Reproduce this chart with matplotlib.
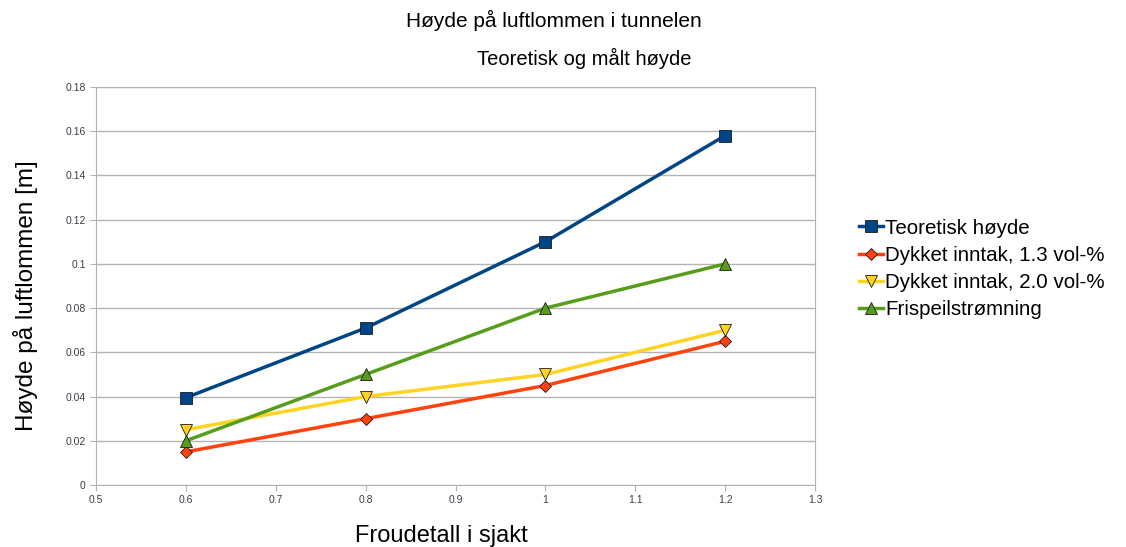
import matplotlib.pyplot as plt

plt.rcParams['font.family'] = ['Liberation Sans', 'DejaVu Sans']

# data
froude = [0.6, 0.8, 1.0, 1.2]
teoretisk = [0.0395, 0.071, 0.110, 0.158]
dykket_13 = [0.015, 0.030, 0.045, 0.065]
dykket_20 = [0.025, 0.040, 0.050, 0.070]
frispeil = [0.020, 0.050, 0.080, 0.100]

xticks = [0.5, 0.6, 0.7, 0.8, 0.9, 1, 1.1, 1.2, 1.3]
yticks = [0, 0.02, 0.04, 0.06, 0.08, 0.1, 0.12, 0.14, 0.16, 0.18]

fig = plt.figure(figsize=(11.26, 5.47), dpi=100)
ax = fig.add_axes([0.0853, 0.1133, 0.6385, 0.7277])

ax.plot(froude, teoretisk, color='#004586', lw=2.5, marker='s', ms=8,
        mfc='#004586', mec='#1a1a1a', mew=0.6, label='Teoretisk høyde')
ax.plot(froude, dykket_13, color='#ff420e', lw=2.5, marker='D', ms=6.5,
        mfc='#ff420e', mec='#1a1a1a', mew=0.6, label='Dykket inntak, 1.3 vol-%')
ax.plot(froude, dykket_20, color='#ffd320', lw=2.5, marker='v', ms=8.5,
        mfc='#ffd320', mec='#1a1a1a', mew=0.6, label='Dykket inntak, 2.0 vol-%')
ax.plot(froude, frispeil, color='#579d1c', lw=2.5, marker='^', ms=8.5,
        mfc='#579d1c', mec='#1a1a1a', mew=0.6, label='Frispeilstrømning')

ax.set_xlim(0.5, 1.3)
ax.set_ylim(0, 0.18)
ax.set_xticks(xticks)
ax.set_xticklabels([str(v) for v in xticks])
ax.set_yticks(yticks)
ax.set_yticklabels([str(v) for v in yticks])
ax.tick_params(labelsize=7.5, color='#b3b3b3', labelcolor='#3a3f48', length=4, direction='out')
ax.grid(axis='y', color='#b3b3b3', lw=1)
ax.set_axisbelow(True)
for s in ax.spines.values():
    s.set_color('#b3b3b3')

ax.set_xlabel('Froudetall i sjakt', fontsize=17)
ax.set_ylabel('Høyde på luftlommen [m]', fontsize=17.5)
ax.xaxis.set_label_coords(0.48, -0.1)
ax.yaxis.set_label_coords(-0.081, 0.477)

fig.text(0.4915, 0.962, 'Høyde på luftlommen i tunnelen', fontsize=15, ha='center', va='center')
fig.text(0.5185, 0.893, 'Teoretisk og målt høyde', fontsize=14.5, ha='center', va='center')

ax.legend(loc='center left', bbox_to_anchor=(1.05, 0.543), frameon=False,
          fontsize=14.8, handlelength=1.15, handletextpad=0.12, labelspacing=0.4,
          borderaxespad=0.0)

fig.savefig('out.png', dpi=100)
